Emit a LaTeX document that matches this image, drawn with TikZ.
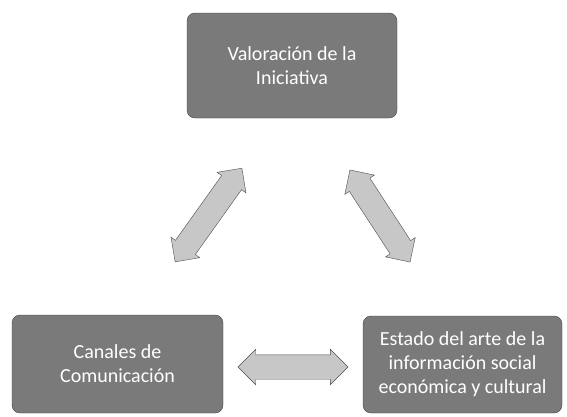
\documentclass[tikz,border=0pt]{standalone}
\usepackage{fontspec}
\setmainfont{Carlito}
\usetikzlibrary{positioning,calc,shapes.arrows}
\tikzstyle{block} = [draw=black!75, fill=black!52, rounded corners=8pt, text=white, align=center, inner sep=2pt, font=\fontsize{20}{24}\selectfont]
\tikzstyle{darrow} = [double arrow, draw=black!70, fill=black!22, double arrow head extend=5.5pt, inner xsep=0pt, inner ysep=12pt]

\begin{document}
\begin{tikzpicture}[x=1pt, y=-1pt]
\useasboundingbox (0,0) rectangle (567,416);
\node[block, minimum width=210pt, minimum height=105pt] (valor) at (292,65.5) {Valoración de la\\Iniciativa};
\node[block, minimum width=211pt, minimum height=98pt] (canales) at (117.5,364) {Canales de\\Comunicación};
\node[block, minimum width=199pt, minimum height=97pt] (estado) at (462.5,364.5) {Estado del arte de la\\información social\\económica y cultural};
% ends of the arrows
\coordinate (lt) at (242,168);
\coordinate (lb) at (175,262);
\coordinate (rt) at (350,170);
\coordinate (rb) at (410,262);
\coordinate (hl) at (238,367);
\coordinate (hr) at (348,367);
\path (lt) -- node[darrow, sloped, minimum height=115pt] {} (lb);
\path (rt) -- node[darrow, sloped, minimum height=110pt] {} (rb);
\path (hl) -- node[darrow, sloped, minimum height=110pt] {} (hr);
\end{tikzpicture}
\end{document}
